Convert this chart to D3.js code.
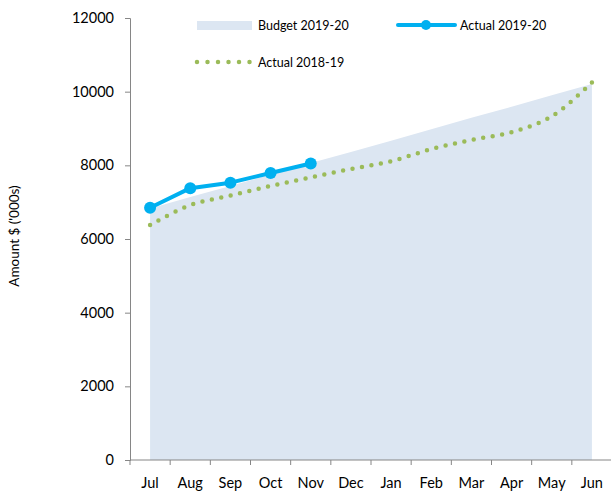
<!DOCTYPE html>
<html>
<head>
<meta charset="utf-8">
<script src="https://cdnjs.cloudflare.com/ajax/libs/d3/7.8.5/d3.min.js"></script>
<style>
  body { margin: 0; background: #fff; }
  text { font-family: Lato, "Open Sans", sans-serif; fill: #000; }
</style>
</head>
<body>
<div id="chart"></div>
<script>
var months = ['Jul', 'Aug', 'Sep', 'Oct', 'Nov', 'Dec', 'Jan', 'Feb', 'Mar', 'Apr', 'May', 'Jun'];
var budget = [6830, 7140, 7440, 7750, 8060, 8360, 8670, 8980, 9290, 9590, 9900, 10210];
var actual1920 = [6850, 7380, 7530, 7790, 8050];
var actual1819 = [6380, 6920, 7180, 7440, 7670, 7900, 8110, 8440, 8690, 8900, 9330, 10250];
var yTicks = [0, 2000, 4000, 6000, 8000, 10000, 12000];

var width = 611, height = 493;
var axisColor = '#868686';

var svg = d3.select('#chart').append('svg')
  .attr('width', width)
  .attr('height', height);

var x = d3.scaleBand().domain(months).range([130, 612]).padding(0);
var y = d3.scaleLinear().domain([0, 12000]).range([460, 18]);
var cx = function (m) { return x(m) + x.bandwidth() / 2; };

// budget area
var area = d3.area()
  .x(function (d, i) { return cx(months[i]); })
  .y0(y(0))
  .y1(function (d) { return y(d); });

svg.append('path')
  .datum(budget)
  .attr('fill', '#DCE6F2')
  .attr('d', area);

// y axis
var yAxis = svg.append('g')
  .attr('transform', 'translate(130,0)')
  .call(d3.axisLeft(y).tickValues(yTicks).tickSize(5).tickFormat(d3.format('d')));
yAxis.select('.domain').attr('stroke', axisColor);
yAxis.selectAll('.tick line').attr('stroke', axisColor);
yAxis.selectAll('.tick text').attr('font-size', 14.5).attr('x', -16);

// x axis (ticks between categories)
var xAxis = svg.append('g');
xAxis.append('line')
  .attr('x1', 130).attr('x2', 612)
  .attr('y1', y(0)).attr('y2', y(0))
  .attr('stroke', axisColor);
var bounds = months.map(function (m) { return x(m); }).concat([x.range()[1]]);
xAxis.selectAll('.xtick').data(bounds).enter().append('line')
  .attr('x1', function (d) { return d; }).attr('x2', function (d) { return d; })
  .attr('y1', y(0)).attr('y2', y(0) + 5)
  .attr('stroke', axisColor);
xAxis.selectAll('.xlabel').data(months).enter().append('text')
  .attr('x', function (d) { return cx(d); })
  .attr('y', 488)
  .attr('text-anchor', 'middle')
  .attr('font-size', 14.5)
  .text(function (d) { return d; });

// y axis title
svg.append('text')
  .attr('transform', 'translate(19,236) rotate(-90)')
  .attr('text-anchor', 'middle')
  .attr('font-size', 13.5)
  .text("Amount $ ('000s)");

// actual 2018-19 dotted line
var line = d3.line()
  .x(function (d, i) { return cx(months[i]); })
  .y(function (d) { return y(d); });

svg.append('path')
  .datum(actual1819)
  .attr('fill', 'none')
  .attr('stroke', '#9BBB59')
  .attr('stroke-width', 4.5)
  .attr('stroke-linecap', 'round')
  .attr('stroke-dasharray', '0 9.6')
  .attr('d', line.curve(d3.curveCatmullRom));

// actual 2019-20
svg.append('path')
  .datum(actual1920)
  .attr('fill', 'none')
  .attr('stroke', '#00B0F0')
  .attr('stroke-width', 4)
  .attr('stroke-linejoin', 'round')
  .attr('d', d3.line()
    .x(function (d, i) { return cx(months[i]); })
    .y(function (d) { return y(d); }));

svg.selectAll('.pt').data(actual1920).enter().append('circle')
  .attr('cx', function (d, i) { return cx(months[i]); })
  .attr('cy', function (d) { return y(d); })
  .attr('r', 6)
  .attr('fill', '#00B0F0');

// legend
var legend = svg.append('g');
legend.append('rect')
  .attr('x', 197).attr('y', 21).attr('width', 55).attr('height', 9)
  .attr('fill', '#DCE6F2');
legend.append('text').attr('x', 258).attr('y', 30).attr('font-size', 12.5).text('Budget 2019-20');

legend.append('line')
  .attr('x1', 398).attr('x2', 455).attr('y1', 25).attr('y2', 25)
  .attr('stroke', '#00B0F0').attr('stroke-width', 4).attr('stroke-linecap', 'round');
legend.append('circle').attr('cx', 426).attr('cy', 25).attr('r', 5).attr('fill', '#00B0F0');
legend.append('text').attr('x', 460).attr('y', 30).attr('font-size', 12.5).text('Actual 2019-20');

legend.append('line')
  .attr('x1', 197).attr('x2', 252).attr('y1', 62).attr('y2', 62)
  .attr('stroke', '#9BBB59').attr('stroke-width', 4.5)
  .attr('stroke-linecap', 'round').attr('stroke-dasharray', '0 10.5');
legend.append('text').attr('x', 258).attr('y', 67).attr('font-size', 12.5).text('Actual 2018-19');
</script>
</body>
</html>
